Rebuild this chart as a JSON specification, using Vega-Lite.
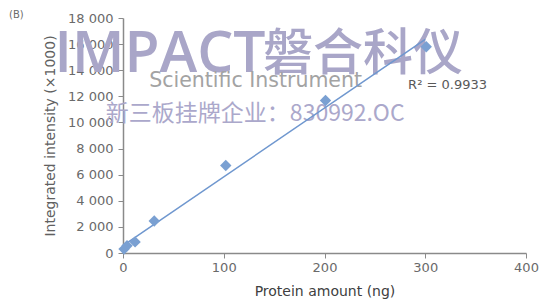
{
  "$schema": "https://vega.github.io/schema/vega-lite/v6.json",
  "autosize": "none",
  "width": 403,
  "height": 235,
  "padding": {"left": 123, "top": 18, "right": 13, "bottom": 47},
  "background": "white",
  "title": {"text": "(B)", "anchor": "start", "frame": "group", "dx": -114, "dy": -4, "offset": -12, "fontSize": 10, "fontWeight": "normal", "color": "#6b6b6b", "font": "DejaVu Sans"},
  "config": {
    "view": {"stroke": null},
    "font": "DejaVu Sans",
    "axis": {"grid": false, "labelFlush": false, "labelOverlap": false, "domainColor": "#8a8a8a", "domainWidth": 1.5, "tickColor": "#8a8a8a", "tickSize": 5, "labelFontSize": 13, "labelColor": "#6a6a6a", "titleFontSize": 14, "titleFontWeight": "normal", "titlePadding": 10},
    "axisX": {"labelPadding": 3, "titleColor": "#404040"},
    "axisY": {"labelPadding": 5, "titleColor": "#606060"}
  },
  "datasets": {
    "points": [
      {"amount": 1, "intensity": 300},
      {"amount": 4, "intensity": 550},
      {"amount": 12, "intensity": 850},
      {"amount": 31, "intensity": 2450},
      {"amount": 102, "intensity": 6700},
      {"amount": 201, "intensity": 11680},
      {"amount": 301, "intensity": 15800}
    ]
  },
  "layer": [
    {
      "data": {"values": [{"t": "IMPACT"}]},
      "mark": {"type": "text", "align": "left", "baseline": "middle", "fontSize": 57, "font": "Open Sans", "fontWeight": 600, "color": "#a9a6c8"},
      "encoding": {
        "x": {"datum": -68, "type": "quantitative", "scale": {"domain": [0, 400], "nice": false}, "axis": {"values": [0, 100, 200, 300, 400], "tickCount": 12, "labelFlush": false, "labelOverlap": false, "title": "Protein amount (ng)"}},
        "y": {"datum": 15170, "type": "quantitative", "scale": {"domain": [0, 18000], "nice": false}, "axis": {"values": [0, 2000, 4000, 6000, 8000, 10000, 12000, 14000, 16000, 18000], "tickCount": 12, "labelExpr": "replace(format(datum.value, ','), ',', ' ')", "labelOverlap": false, "labelFlush": false, "title": "Integrated intensity (×1000)"}},
        "text": {"field": "t"}
      }
    },
    {
      "data": {"values": [{"t": "磐合科仪"}]},
      "mark": {"type": "text", "align": "left", "baseline": "middle", "fontSize": 50, "font": "Noto Sans CJK SC", "fontWeight": 500, "color": "#a9a6c8"},
      "encoding": {"x": {"datum": 139}, "y": {"datum": 15150}, "text": {"field": "t"}}
    },
    {
      "data": {"values": [{"t": "Scientific  Instrument"}]},
      "mark": {"type": "text", "align": "left", "baseline": "middle", "fontSize": 20.5, "font": "DejaVu Sans", "color": "#a3a3a3"},
      "encoding": {"x": {"datum": 26}, "y": {"datum": 13200}, "text": {"field": "t"}}
    },
    {
      "data": {"values": [{"t": "新三板挂牌企业：830992.OC"}]},
      "mark": {"type": "text", "align": "left", "baseline": "middle", "fontSize": 23, "font": "Noto Sans CJK SC", "color": "#aba8cb"},
      "encoding": {"x": {"datum": -17}, "y": {"datum": 10650}, "text": {"field": "t"}}
    },
    {
      "data": {"name": "points"},
      "transform": [{"regression": "intensity", "on": "amount", "extent": [0, 300]}],
      "mark": {"type": "line", "color": "#6f97cf", "strokeWidth": 1.5},
      "encoding": {
        "x": {"field": "amount", "type": "quantitative"},
        "y": {"field": "intensity", "type": "quantitative"}
      }
    },
    {
      "data": {"name": "points"},
      "mark": {"type": "point", "shape": "diamond", "filled": true, "size": 130, "color": "#7aa0d2", "opacity": 1},
      "encoding": {
        "x": {"field": "amount", "type": "quantitative"},
        "y": {"field": "intensity", "type": "quantitative"}
      }
    },
    {
      "data": {"values": [{"t": "R² = 0.9933"}]},
      "mark": {"type": "text", "align": "left", "baseline": "middle", "fontSize": 13, "color": "#595959"},
      "encoding": {"x": {"datum": 283}, "y": {"datum": 12900}, "text": {"field": "t"}}
    }
  ]
}
